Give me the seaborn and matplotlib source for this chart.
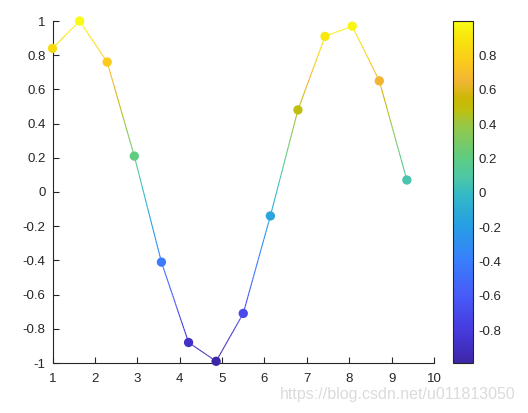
import numpy as np
import pandas as pd
import seaborn as sns
import matplotlib
matplotlib.use("Agg")
import matplotlib.pyplot as plt
from matplotlib.colors import LinearSegmentedColormap, Normalize
from matplotlib.collections import LineCollection

# values
x_vals = [1.0, 1.64, 2.29, 2.93, 3.57, 4.21, 4.86, 5.5, 6.14, 6.79, 7.43, 8.07, 8.71, 9.36]
y_vals = [0.84, 1.0, 0.76, 0.21, -0.41, -0.88, -0.99, -0.71, -0.14, 0.48, 0.91, 0.97, 0.65, 0.07]
x_ticks = list(range(1, 11))
y_ticks = [-1, -0.8, -0.6, -0.4, -0.2, 0, 0.2, 0.4, 0.6, 0.8, 1]
cbar_ticks = [-0.8, -0.6, -0.4, -0.2, 0, 0.2, 0.4, 0.6, 0.8]

# rough parula
parula = LinearSegmentedColormap.from_list("parula", [
    (0.000, (0.243, 0.150, 0.660)),
    (0.100, (0.275, 0.235, 0.880)),
    (0.200, (0.280, 0.360, 0.975)),
    (0.300, (0.220, 0.500, 0.985)),
    (0.400, (0.150, 0.620, 0.900)),
    (0.496, (0.200, 0.730, 0.770)),
    (0.540, (0.300, 0.780, 0.660)),
    (0.597, (0.360, 0.800, 0.520)),
    (0.698, (0.600, 0.780, 0.270)),
    (0.740, (0.750, 0.750, 0.060)),
    (0.775, (0.800, 0.720, 0.020)),
    (0.825, (0.950, 0.710, 0.210)),
    (0.880, (0.980, 0.790, 0.110)),
    (0.950, (0.970, 0.900, 0.050)),
    (1.000, (0.976, 0.984, 0.080)),
])

df = pd.DataFrame({"x": x_vals, "y": y_vals})
norm = Normalize(vmin=min(y_vals), vmax=max(y_vals))

sns.set_style("ticks")
plt.rcParams["font.family"] = ["Liberation Sans", "DejaVu Sans"]
plt.rcParams["axes.unicode_minus"] = False
txt = (0.15, 0.15, 0.15)

fig = plt.figure(figsize=(5.28, 4.13), dpi=100)
ax = fig.add_axes([52.5 / 528, 50 / 413, 381.5 / 528, 342 / 413])
cax = fig.add_axes([453.3 / 528, 50 / 413, 20 / 528, 342 / 413])

# line with colour interpolated along each segment
segs, cols = [], []
for i in range(len(x_vals) - 1):
    t = np.linspace(0, 1, 30)
    xs = x_vals[i] + (x_vals[i + 1] - x_vals[i]) * t
    ys = y_vals[i] + (y_vals[i + 1] - y_vals[i]) * t
    for j in range(len(t) - 1):
        segs.append([(xs[j], ys[j]), (xs[j + 1], ys[j + 1])])
        cols.append(parula(norm((ys[j] + ys[j + 1]) / 2)))
ax.add_collection(LineCollection(segs, colors=cols, linewidths=0.8, zorder=2))

sns.scatterplot(data=df, x="x", y="y", hue="y", palette=parula, hue_norm=norm,
                s=45, linewidth=0, legend=False, ax=ax, zorder=3)

ax.set_xlim(1, 10)
ax.set_ylim(-1, 1)
ax.set_xticks(x_ticks)
ax.set_yticks(y_ticks)
ax.set_yticklabels(["-1", "-0.8", "-0.6", "-0.4", "-0.2", "0", "0.2", "0.4", "0.6", "0.8", "1"])
ax.set_xlabel("")
ax.set_ylabel("")
ax.tick_params(direction="in", length=4, width=0.8, colors=txt, labelsize=9.5)
ax.tick_params(axis="x", pad=7.5)
ax.tick_params(axis="y", pad=5)
for s in ["top", "right"]:
    ax.spines[s].set_visible(False)
for s in ["left", "bottom"]:
    ax.spines[s].set_color(txt)
    ax.spines[s].set_linewidth(0.8)
ax.patch.set_alpha(0)
for c in ax.collections:
    c.set_clip_on(False)

sm = plt.cm.ScalarMappable(cmap=parula, norm=norm)
cb = fig.colorbar(sm, cax=cax, ticks=cbar_ticks)
cb.ax.set_yticklabels(["-0.8", "-0.6", "-0.4", "-0.2", "0", "0.2", "0.4", "0.6", "0.8"])
cb.ax.tick_params(direction="in", length=3, width=0.8, colors=txt, labelsize=9.5, pad=4)
cb.outline.set_edgecolor(txt)
cb.outline.set_linewidth(0.8)

fig.text(0.977, 0.027, "https://blog.csdn.net/u011813050", ha="right", va="bottom",
         fontsize=11.5, color=(0.86, 0.86, 0.86))

fig.savefig("out.png", dpi=100)
